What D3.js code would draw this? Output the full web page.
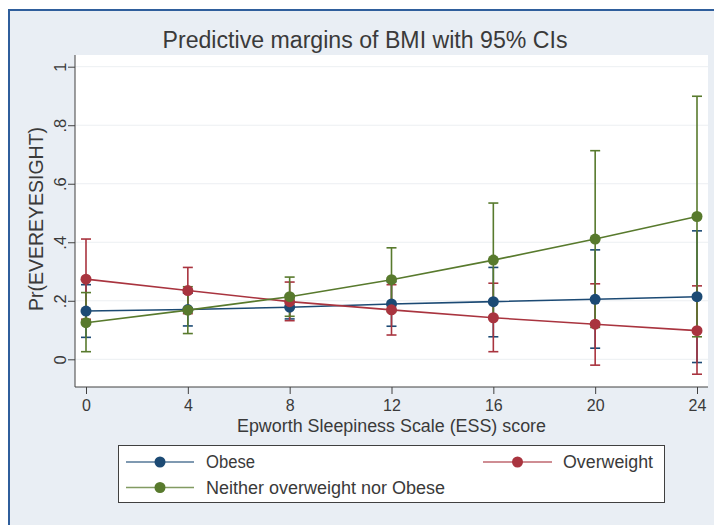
<!DOCTYPE html>
<html>
<head>
<meta charset="utf-8">
<script src="https://cdn.jsdelivr.net/npm/d3@7"></script>
<style>
  html, body { margin: 0; padding: 0; background: #ffffff; }
  svg { display: block; font-family: "Liberation Sans", Arial, sans-serif; }
</style>
</head>
<body>
<svg id="chart" width="714" height="525"></svg>
<script>
// ---- data ----
const essScores = [0, 4, 8, 12, 16, 20, 24];
const yTickValues = [0, 0.2, 0.4, 0.6, 0.8, 1];
const yTickLabels = ["0", ".2", ".4", ".6", ".8", "1"];
const seriesNames = ["Obese", "Overweight", "Neither overweight nor Obese"];

const obeseEst = [0.165, 0.170, 0.178, 0.189, 0.197, 0.205, 0.214];
const obeseLo  = [0.075, 0.114, 0.138, 0.113, 0.077, 0.038, -0.011];
const obeseHi  = [0.255, 0.226, 0.218, 0.265, 0.314, 0.374, 0.439];

const overEst = [0.274, 0.235, 0.197, 0.169, 0.142, 0.120, 0.098];
const overLo  = [0.137, 0.156, 0.132, 0.083, 0.026, -0.020, -0.051];
const overHi  = [0.411, 0.314, 0.264, 0.255, 0.260, 0.258, 0.251];

const neitherEst = [0.125, 0.168, 0.214, 0.272, 0.339, 0.411, 0.488];
const neitherLo  = [0.026, 0.088, 0.147, 0.163, 0.144, 0.109, 0.077];
const neitherHi  = [0.228, 0.248, 0.281, 0.381, 0.534, 0.713, 0.899];

const colors = ["#1c4a74", "#a9343f", "#587a2d"];

const series = [
  { name: seriesNames[0], est: obeseEst, lo: obeseLo, hi: obeseHi, color: colors[0] },
  { name: seriesNames[1], est: overEst, lo: overLo, hi: overHi, color: colors[1] },
  { name: seriesNames[2], est: neitherEst, lo: neitherLo, hi: neitherHi, color: colors[2] }
];

// ---- layout ----
const svg = d3.select("#chart");
const plot = { left: 75, right: 708, top: 55, bottom: 387 };
const x = d3.scaleLinear().domain([0, 24]).range([86, 697]);
const y = d3.scaleLinear().domain([0, 1]).range([359.3, 66.7]);
const textColor = "#3a3a3a";

// outer background + frame
svg.append("rect").attr("x", 9).attr("y", 10).attr("width", 705).attr("height", 515).attr("fill", "#e9eef4");
svg.append("line").attr("x1", 8).attr("x2", 714).attr("y1", 10).attr("y2", 10).attr("stroke", "#2f5e9c").attr("stroke-width", 2);
svg.append("line").attr("x1", 9).attr("x2", 9).attr("y1", 9).attr("y2", 525).attr("stroke", "#2f5e9c").attr("stroke-width", 2);

// plot region
svg.append("rect").attr("x", plot.left).attr("y", plot.top)
  .attr("width", plot.right - plot.left).attr("height", plot.bottom - plot.top).attr("fill", "#ffffff");

// gridlines
svg.append("g").selectAll("line").data(yTickValues).join("line")
  .attr("x1", plot.left).attr("x2", plot.right)
  .attr("y1", d => y(d)).attr("y2", d => y(d))
  .attr("stroke", "#eceff2").attr("stroke-width", 1);

// title
svg.append("text").attr("x", 365).attr("y", 48).attr("text-anchor", "middle")
  .attr("font-size", 23).attr("fill", textColor)
  .attr("textLength", 405).attr("lengthAdjust", "spacingAndGlyphs")
  .text("Predictive margins of BMI with 95% CIs");

// y axis
const yAxis = d3.axisLeft(y).tickValues(yTickValues).tickFormat((d, i) => yTickLabels[i]).tickSize(7).tickSizeOuter(0);
const gy = svg.append("g").attr("transform", `translate(${plot.left},0)`).call(yAxis);
gy.select(".domain").remove();
gy.append("line").attr("x1", 0).attr("x2", 0).attr("y1", plot.top).attr("y2", plot.bottom).attr("stroke", "#404040");
gy.selectAll(".tick line").attr("stroke", "#404040");
gy.selectAll(".tick text")
  .attr("font-size", 16.5).attr("fill", textColor).attr("font-family", "Liberation Sans, Arial, sans-serif")
  .attr("x", null).attr("dy", null).attr("y", 0)
  .attr("text-anchor", "middle")
  .attr("transform", "translate(-9,0) rotate(-90)");

svg.append("text").attr("transform", "translate(43,219) rotate(-90)")
  .attr("text-anchor", "middle").attr("font-size", 19.5).attr("fill", textColor)
  .text("Pr(EVEREYESIGHT)");

// x axis
const xAxis = d3.axisBottom(x).tickValues(essScores).tickFormat(d3.format("d")).tickSize(7).tickSizeOuter(0);
const gx = svg.append("g").attr("transform", `translate(0,${plot.bottom})`).call(xAxis);
gx.select(".domain").remove();
gx.append("line").attr("x1", plot.left).attr("x2", plot.right).attr("y1", 0).attr("y2", 0).attr("stroke", "#404040");
gx.selectAll(".tick line").attr("stroke", "#404040");
gx.selectAll(".tick text").attr("font-size", 16).attr("fill", textColor)
  .attr("font-family", "Liberation Sans, Arial, sans-serif").attr("y", 13).attr("dy", "0.71em");

svg.append("text").attr("x", 391.5).attr("y", 431.5).attr("text-anchor", "middle")
  .attr("font-size", 17.5).attr("fill", textColor)
  .attr("textLength", 309).attr("lengthAdjust", "spacingAndGlyphs")
  .text("Epworth Sleepiness Scale (ESS) score");

// confidence intervals
const capW = 5;
const ci = svg.append("g");
series.forEach(s => {
  const g = ci.append("g").attr("stroke", s.color).attr("stroke-width", 1.6).attr("fill", "none");
  essScores.forEach((v, i) => {
    const px = x(v);
    g.append("line").attr("x1", px).attr("x2", px).attr("y1", y(s.lo[i])).attr("y2", y(s.hi[i]));
    g.append("line").attr("x1", px - capW).attr("x2", px + capW).attr("y1", y(s.lo[i])).attr("y2", y(s.lo[i]));
    g.append("line").attr("x1", px - capW).attr("x2", px + capW).attr("y1", y(s.hi[i])).attr("y2", y(s.hi[i]));
  });
});

// lines and markers
const line = d3.line().x((d, i) => x(essScores[i])).y(d => y(d));
series.forEach(s => {
  svg.append("path").datum(s.est).attr("d", line).attr("fill", "none")
    .attr("stroke", s.color).attr("stroke-width", 1.6);
  svg.append("g").selectAll("circle").data(s.est).join("circle")
    .attr("cx", (d, i) => x(essScores[i])).attr("cy", d => y(d)).attr("r", 5.5)
    .attr("fill", s.color);
});

// legend
const lg = svg.append("g");
lg.append("rect").attr("x", 118.5).attr("y", 445.5).attr("width", 546).attr("height", 57)
  .attr("fill", "#ffffff").attr("stroke", "#404040").attr("stroke-width", 1);
const legendItems = [
  { s: series[0], x0: 126, x1: 194, ty: 462, tx: 206, tl: 49 },
  { s: series[1], x0: 483, x1: 552, ty: 462, tx: 563, tl: 90 },
  { s: series[2], x0: 126, x1: 194, ty: 487.5, tx: 206, tl: 239 }
];
legendItems.forEach(it => {
  lg.append("line").attr("x1", it.x0).attr("x2", it.x1).attr("y1", it.ty).attr("y2", it.ty)
    .attr("stroke", it.s.color).attr("stroke-width", 1.6).attr("stroke-opacity", 0.75);
  lg.append("circle").attr("cx", (it.x0 + it.x1) / 2).attr("cy", it.ty).attr("r", 5.5).attr("fill", it.s.color);
  lg.append("text").attr("x", it.tx).attr("y", it.ty).attr("dy", "0.36em")
    .attr("font-size", 17.5).attr("fill", textColor)
    .attr("textLength", it.tl).attr("lengthAdjust", "spacingAndGlyphs")
    .text(it.s.name);
});
</script>
</body>
</html>
